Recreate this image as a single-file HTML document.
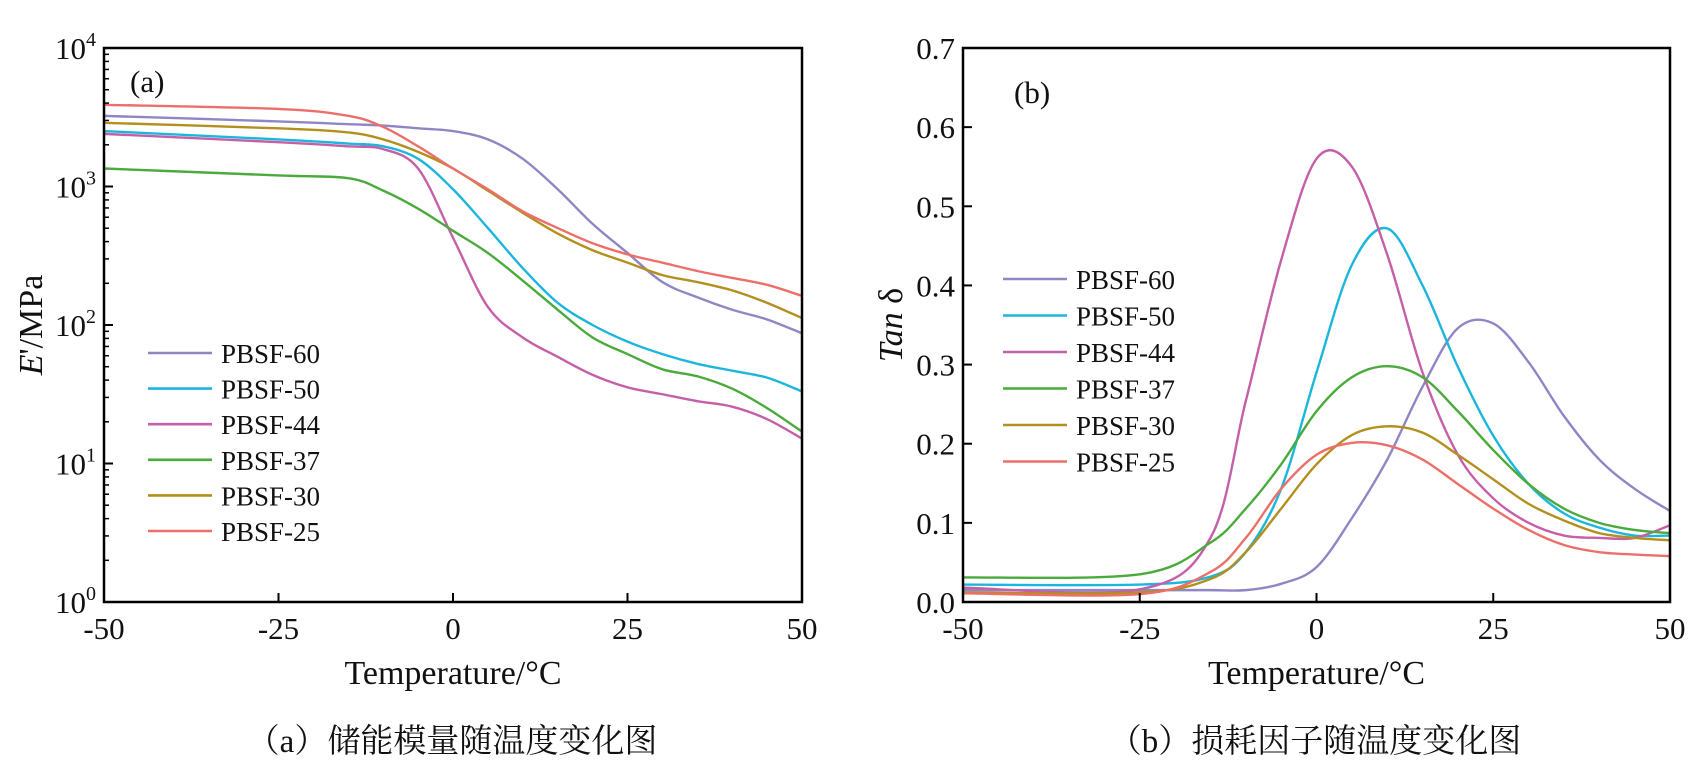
<!DOCTYPE html>
<html><head><meta charset="utf-8">
<style>
html,body{margin:0;padding:0;background:#fff;}
svg{display:block;}
text{font-family:"Liberation Serif","Noto Serif CJK SC",serif;fill:#111;}
</style></head>
<body>
<svg id="chart" width="1688" height="778" viewBox="0 0 1688 778" xmlns="http://www.w3.org/2000/svg"></svg>
<script>
const temps = [-50,-25,-15,-10,-5,0,5,10,15,20,25,30,35,40,45,50];
const seriesNames = ["PBSF-60","PBSF-50","PBSF-44","PBSF-37","PBSF-30","PBSF-25"];
const seriesColors = ["#8f86c4","#1cb6dd","#c55fa8","#4aaa3c","#b38f1e","#ec6f6a"];
// log10(E'/MPa)
const logE60 = [3.51,3.47,3.45,3.44,3.42,3.40,3.34,3.20,2.98,2.73,2.52,2.31,2.20,2.11,2.04,1.94];
const logE50 = [3.40,3.34,3.31,3.29,3.20,2.98,2.70,2.41,2.16,2.00,1.88,1.79,1.72,1.67,1.62,1.52];
const logE44 = [3.38,3.32,3.29,3.27,3.13,2.63,2.13,1.91,1.77,1.64,1.55,1.50,1.45,1.41,1.32,1.18];
const logE37 = [3.13,3.08,3.06,2.97,2.84,2.68,2.52,2.32,2.11,1.91,1.79,1.68,1.63,1.54,1.40,1.23];
const logE30 = [3.46,3.42,3.39,3.34,3.25,3.13,2.97,2.81,2.66,2.54,2.45,2.36,2.31,2.25,2.16,2.05];
const logE25 = [3.59,3.56,3.51,3.43,3.29,3.13,2.98,2.82,2.70,2.59,2.51,2.45,2.39,2.34,2.29,2.21];
// tan delta
const tan60 = [0.015,0.015,0.015,0.015,0.023,0.044,0.106,0.180,0.272,0.346,0.352,0.303,0.235,0.180,0.143,0.115];
const tan50 = [0.022,0.022,0.032,0.063,0.143,0.290,0.426,0.472,0.400,0.297,0.210,0.149,0.112,0.094,0.084,0.084];
const tan44 = [0.018,0.016,0.081,0.254,0.432,0.560,0.550,0.439,0.290,0.186,0.131,0.100,0.084,0.081,0.081,0.097];
const tan37 = [0.031,0.035,0.075,0.118,0.174,0.241,0.284,0.298,0.284,0.241,0.192,0.149,0.118,0.100,0.091,0.087];
const tan30 = [0.012,0.012,0.029,0.063,0.118,0.174,0.211,0.222,0.214,0.186,0.155,0.124,0.103,0.087,0.081,0.078];
const tan25 = [0.011,0.010,0.038,0.081,0.143,0.186,0.201,0.198,0.180,0.149,0.118,0.091,0.072,0.063,0.060,0.058];
const xTicks = [-50,-25,0,25,50];
const yTicksA = [0,1,2,3,4];
const yTicksB = [0,0.1,0.2,0.3,0.4,0.5,0.6,0.7];

const NS="http://www.w3.org/2000/svg";
const svg=document.getElementById('chart');
function mk(tag,attrs,parent){const e=document.createElementNS(NS,tag);for(const k in attrs)e.setAttribute(k,attrs[k]);(parent||svg).appendChild(e);return e;}
function smooth(pts){let d=`M${pts[0][0]},${pts[0][1]}`;for(let i=0;i<pts.length-1;i++){const p0=pts[i-1]||pts[i],p1=pts[i],p2=pts[i+1],p3=pts[i+2]||p2;const c1=[p1[0]+(p2[0]-p0[0])/6,p1[1]+(p2[1]-p0[1])/6],c2=[p2[0]-(p3[0]-p1[0])/6,p2[1]-(p3[1]-p1[1])/6];d+=` C${c1[0]},${c1[1]} ${c2[0]},${c2[1]} ${p2[0]},${p2[1]}`;}return d;}

function panel(cfg){
  const g=mk('g',{});
  
  
  const X=t=>cfg.x0+(t+50)/100*(cfg.x1-cfg.x0);
  const Y=v=>cfg.y1-(v-cfg.ymin)/(cfg.ymax-cfg.ymin)*(cfg.y1-cfg.y0);
  cfg.series.forEach((vals,i)=>{
    const p=mk('path',{d:smooth(temps.map((t,j)=>[X(t),Y(vals[j])])),fill:'none',stroke:seriesColors[i],'stroke-width':2.4},g);
    
    
  });
  const fr=mk('rect',{x:cfg.x0,y:cfg.y0,width:cfg.x1-cfg.x0,height:cfg.y1-cfg.y0,fill:'none',stroke:'#000','stroke-width':2.5},g);
  
  
  xTicks.forEach(t=>{
    mk('line',{x1:X(t),x2:X(t),y1:cfg.y1,y2:cfg.y1-9,stroke:'#000','stroke-width':2},g);
    const tx=mk('text',{x:X(t),y:cfg.y1+37,'font-size':31,'text-anchor':'middle'},g);tx.textContent=t;
    
    
  });
  cfg.yTicks.forEach(v=>{
    mk('line',{x1:cfg.x0,x2:cfg.x0+9,y1:Y(v),y2:Y(v),stroke:'#000','stroke-width':2},g);
    const tx=mk('text',{x:cfg.x0-8,y:Y(v)+11,'font-size':31,'text-anchor':'end'},g);
    
    
    if(cfg.log){tx.textContent='10';const s=mk('tspan',{dy:-13,'font-size':20},tx);s.textContent=v;}
    else tx.textContent=v.toFixed(1);
  });
  if(cfg.log){for(let d=0;d<4;d++)for(let m=2;m<10;m++){const v=d+Math.log10(m);mk('line',{x1:cfg.x0,x2:cfg.x0+5,y1:Y(v),y2:Y(v),stroke:'#000','stroke-width':1.5},g);}}
  const xt=mk('text',{x:(cfg.x0+cfg.x1)/2,y:cfg.y1+82,'font-size':34,'text-anchor':'middle'},g);xt.textContent='Temperature/°C';
  
  
  const pl=mk('text',{x:cfg.labelX,y:cfg.labelY,'font-size':31},g);pl.textContent=cfg.label;
  
  
  seriesNames.forEach((n,i)=>{
    const y=cfg.legY+i*cfg.legDy;
    const lg=mk('g',{},g);
    
    
    mk('line',{x1:cfg.legX,x2:cfg.legX+64,y1:y,y2:y,stroke:seriesColors[i],'stroke-width':2.6},lg);
    const t=mk('text',{x:cfg.legX+73,y:y+10,'font-size':27,'font-family':'Liberation Sans, sans-serif'},lg);t.textContent=n;
  });
  const cap=mk('text',{x:cfg.capX,y:752,'font-size':33,'text-anchor':'middle'},g);cap.textContent=cfg.caption;
  
  
  return g;
}
panel({name:'storage-modulus-chart',x0:104,x1:802,y0:48,y1:602,ymin:0,ymax:4,log:true,yTicks:yTicksA,
  series:[logE60,logE50,logE44,logE37,logE30,logE25],label:'(a)',labelX:130,labelY:92,
  legX:148,legY:353,legDy:35.6,capX:452,caption:'（a）储能模量随温度变化图'});
panel({name:'loss-factor-chart',x0:963,x1:1670,y0:48,y1:602,ymin:0,ymax:0.7,log:false,yTicks:yTicksB,
  series:[tan60,tan50,tan44,tan37,tan30,tan25],label:'(b)',labelX:1014,labelY:103,
  legX:1003,legY:279,legDy:36.5,capX:1315,caption:'（b）损耗因子随温度变化图'});
const ya=mk('text',{transform:'translate(42,325) rotate(-90)','font-size':34,'text-anchor':'middle'});


const e=mk('tspan',{'font-style':'italic'},ya);e.textContent="E";const r=mk('tspan',{},ya);r.textContent="'/MPa";
const yb=mk('text',{transform:'translate(902,325) rotate(-90)','font-size':34,'text-anchor':'middle'});


const t1=mk('tspan',{'font-style':'italic'},yb);t1.textContent="Tan";const t2=mk('tspan',{},yb);t2.textContent=" δ";
</script>
</body></html>
